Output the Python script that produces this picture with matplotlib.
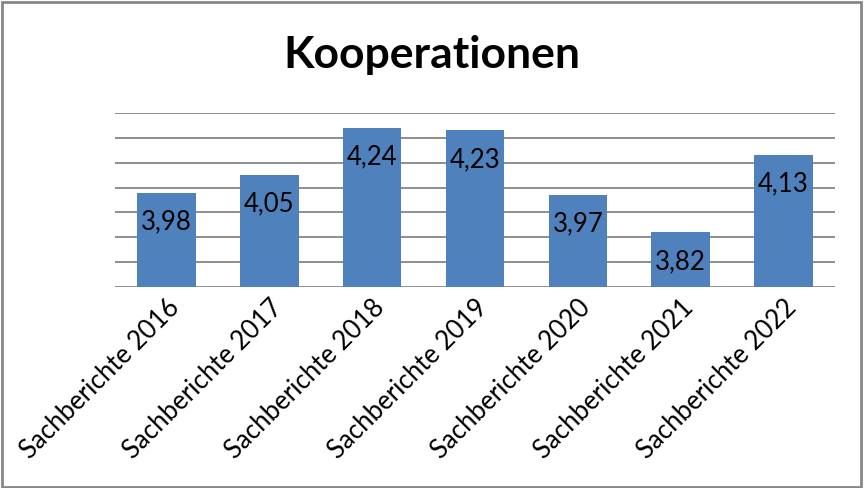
import matplotlib.pyplot as plt
from matplotlib.patches import Rectangle

categories = ["Sachberichte 2016", "Sachberichte 2017", "Sachberichte 2018",
              "Sachberichte 2019", "Sachberichte 2020", "Sachberichte 2021",
              "Sachberichte 2022"]
values = [3.98, 4.05, 4.24, 4.23, 3.97, 3.82, 4.13]
title = "Kooperationen"

plt.rcParams['font.family'] = ['Lato', 'DejaVu Sans']

fig = plt.figure(figsize=(8.64, 4.88), dpi=100)
ax = fig.add_axes([115 / 864, 1 - 287 / 488, 720 / 864, 174 / 488])

x = range(len(categories))
bars = ax.bar(x, values, width=0.57, color="#4f81bd", zorder=3)

ax.set_ylim(3.6, 4.3)
ax.set_xlim(-0.5, len(categories) - 0.5)
ax.set_yticks([3.6 + 0.1 * i for i in range(8)])
ax.yaxis.grid(True, color="#868686", linewidth=1.3, zorder=0)
ax.tick_params(axis="y", left=False, labelleft=False)
ax.tick_params(axis="x", length=0, pad=6)
for s in ax.spines.values():
    s.set_visible(False)

ax.set_xticks(list(x))
ax.set_xticklabels(categories, rotation=45, ha="right", rotation_mode="anchor",
                   fontsize=18.5)

# value labels inside bars
for b, v in zip(bars, values):
    ax.annotate(f"{v:.2f}".replace(".", ","),
                (b.get_x() + b.get_width() / 2, v),
                xytext=(0, -29), textcoords="offset pixels",
                ha="center", va="center", fontsize=18.5, color="black", zorder=4)

fig.text(0.5, 1 - 55 / 488, title, ha="center", va="center",
         fontsize=32, fontweight="bold")

# chart border
fig.patches.append(Rectangle((0.002, 0.003), 0.994, 0.993, transform=fig.transFigure,
                             fill=False, edgecolor="#878787", linewidth=2))

plt.savefig("out.png", dpi=100)
